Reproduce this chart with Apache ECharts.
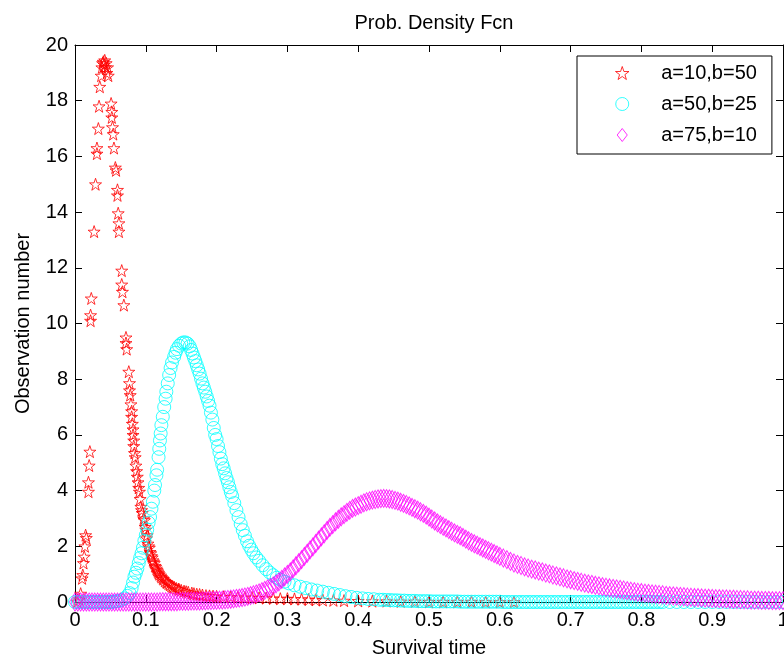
<!DOCTYPE html>
<html>
<head>
<meta charset="utf-8">
<script src="https://cdn.jsdelivr.net/npm/echarts@6/dist/echarts.min.js"></script>
<style>html,body{margin:0;padding:0;background:#fff;}#c{width:784px;height:659px;}</style>
</head>
<body>
<div id="c"></div>
<script>
// ---- data ----
const seriesNames = ['a=10,b=50', 'a=50,b=25', 'a=75,b=10'];
const xTickLabels = ['0','0.1','0.2','0.3','0.4','0.5','0.6','0.7','0.8','0.9','1'];
const yTickLabels = ['0','2','4','6','8','10','12','14','16','18','20'];

const redPoints = [[0.003,0.02],[0.006,0.1],[0.008,0.3],[0.010,0.85],[0.011,0.97],[0.012,1.4],[0.013,1.63],[0.014,2.0],[0.015,2.4],[0.016,2.3],[0.019,3.96],[0.019,4.3],[0.020,4.9],[0.021,5.4],[0.022,10.1],[0.022,10.3],[0.023,10.9],[0.027,13.3],[0.029,15.0],[0.031,16.1],[0.031,16.3],[0.033,17.0],[0.034,17.8],[0.035,18.5],[0.037,18.9],[0.038,19.2],[0.039,19.35],[0.040,19.4],[0.041,19.3],[0.042,19.45],[0.043,19.2],[0.044,19.35],[0.045,19.0],[0.046,19.2],[0.047,18.9],[0.051,17.9],[0.052,17.6],[0.052,17.4],[0.053,17.05],[0.054,16.8],[0.055,16.3],[0.057,15.6],[0.058,15.5],[0.060,14.8],[0.060,14.6],[0.061,13.96],[0.062,13.6],[0.062,13.3],[0.066,11.9],[0.066,11.4],[0.067,11.14],[0.069,10.66],[0.072,9.5],[0.072,9.3],[0.073,9.08],[0.076,8.27],[0.077,7.86],[0.077,7.6],[0.078,7.43],[0.079,7.1],[0.080,6.85],[0.080,6.65],[0.081,6.4],[0.082,6.2],[0.082,6.0],[0.083,5.8],[0.083,5.6],[0.084,5.35],[0.085,5.2],[0.086,4.9],[0.087,4.7],[0.088,4.5],[0.089,4.3],[0.090,4.1],[0.091,3.96],[0.092,3.7],[0.093,3.42],[0.094,3.3],[0.095,3.2],[0.097,3.0],[0.098,2.94],[0.099,2.7],[0.100,2.6],[0.101,2.29],[0.102,2.4],[0.103,2.1],[0.104,2.0],[0.105,1.95],[0.106,1.8],[0.107,1.75],[0.108,1.65],[0.109,1.6],[0.110,1.5],[0.111,1.45],[0.112,1.4],[0.113,1.3],[0.114,1.27],[0.115,1.2],[0.116,1.15],[0.117,1.1],[0.118,1.05],[0.119,1.0],[0.121,0.95],[0.122,0.9],[0.124,0.85],[0.125,0.82],[0.127,0.76],[0.129,0.72],[0.130,0.7],[0.132,0.66],[0.134,0.62],[0.136,0.58],[0.138,0.55],[0.140,0.53],[0.143,0.49],[0.146,0.46],[0.147,0.45],[0.150,0.42],[0.154,0.39],[0.157,0.37],[0.160,0.35],[0.165,0.32],[0.168,0.30],[0.172,0.28],[0.176,0.27],[0.180,0.25],[0.185,0.23],[0.190,0.22],[0.195,0.21],[0.200,0.2],[0.210,0.19],[0.220,0.18],[0.230,0.17],[0.240,0.16],[0.250,0.16],[0.260,0.15],[0.270,0.14],[0.280,0.13],[0.290,0.12],[0.300,0.12],[0.310,0.11],[0.320,0.10],[0.330,0.09],[0.340,0.08],[0.350,0.07],[0.365,0.06],[0.380,0.05],[0.400,0.04],[0.420,0.03],[0.440,0.03],[0.460,0.02],[0.480,0.02],[0.500,0.01],[0.520,0.01],[0.540,0.01],[0.560,0.01],[0.580,0.0],[0.600,0.0],[0.620,0.0]];

const cyanPoints = [[0.000,0.00],[0.004,0.00],[0.008,0.00],[0.012,0.00],[0.016,0.00],[0.020,0.00],[0.024,0.00],[0.028,0.00],[0.032,0.00],[0.036,0.00],[0.040,0.00],[0.044,0.00],[0.048,0.00],[0.051,0.00],[0.054,0.01],[0.057,0.02],[0.060,0.03],[0.065,0.06],[0.070,0.13],[0.074,0.22],[0.077,0.32],[0.080,0.50],[0.082,0.70],[0.084,0.91],[0.086,1.05],[0.088,1.20],[0.090,1.40],[0.092,1.58],[0.094,1.75],[0.096,1.95],[0.098,2.20],[0.100,2.40],[0.102,2.60],[0.104,2.85],[0.106,3.05],[0.108,3.35],[0.110,3.60],[0.112,4.00],[0.113,4.20],[0.115,4.55],[0.116,4.75],[0.118,5.20],[0.119,5.50],[0.120,5.80],[0.121,6.05],[0.122,6.35],[0.124,6.65],[0.126,7.00],[0.128,7.30],[0.129,7.55],[0.131,7.85],[0.133,8.15],[0.135,8.40],[0.137,8.60],[0.140,8.80],[0.142,8.95],[0.144,9.08],[0.147,9.20],[0.150,9.28],[0.153,9.32],[0.156,9.32],[0.159,9.28],[0.162,9.18],[0.164,9.05],[0.166,8.92],[0.168,8.78],[0.170,8.65],[0.172,8.50],[0.174,8.35],[0.176,8.20],[0.178,8.02],[0.180,7.85],[0.182,7.70],[0.184,7.55],[0.186,7.38],[0.188,7.22],[0.190,7.05],[0.192,6.80],[0.194,6.55],[0.196,6.25],[0.198,6.00],[0.200,5.85],[0.202,5.60],[0.204,5.38],[0.206,5.15],[0.208,4.95],[0.210,4.80],[0.212,4.62],[0.214,4.45],[0.216,4.30],[0.218,4.12],[0.220,3.95],[0.222,3.80],[0.225,3.55],[0.228,3.30],[0.231,3.05],[0.234,2.80],[0.237,2.58],[0.240,2.38],[0.243,2.18],[0.246,2.02],[0.249,1.88],[0.252,1.75],[0.256,1.60],[0.260,1.48],[0.265,1.32],[0.270,1.18],[0.275,1.06],[0.280,0.96],[0.285,0.87],[0.290,0.80],[0.296,0.73],[0.302,0.67],[0.310,0.60],[0.318,0.55],[0.326,0.50],[0.334,0.45],[0.342,0.41],[0.350,0.37],[0.358,0.33],[0.366,0.29],[0.374,0.25],[0.382,0.21],[0.390,0.18],[0.398,0.15],[0.406,0.13],[0.414,0.11],[0.422,0.10],[0.430,0.08],[0.435,0.08],[0.440,0.07],[0.445,0.07],[0.450,0.06],[0.455,0.06],[0.460,0.05],[0.465,0.05],[0.470,0.04],[0.475,0.04],[0.480,0.04],[0.485,0.03],[0.490,0.03],[0.495,0.03],[0.500,0.03],[0.505,0.02],[0.510,0.02],[0.515,0.02],[0.520,0.02],[0.525,0.02],[0.530,0.02],[0.535,0.02],[0.540,0.02],[0.545,0.01],[0.550,0.01],[0.555,0.01],[0.560,0.01],[0.565,0.01],[0.570,0.01],[0.575,0.01],[0.580,0.01],[0.585,0.01],[0.590,0.01],[0.595,0.01],[0.600,0.01],[0.605,0.00],[0.610,0.00],[0.615,0.00],[0.620,0.00],[0.625,0.00],[0.630,0.00],[0.635,0.00],[0.640,0.00],[0.645,0.00],[0.650,0.00],[0.655,0.00],[0.660,0.00],[0.665,0.00],[0.670,0.00],[0.675,0.00],[0.680,0.00],[0.685,0.00],[0.690,0.00],[0.695,0.00],[0.700,0.00],[0.705,0.00],[0.710,0.00],[0.715,0.00],[0.720,0.00],[0.725,0.00],[0.730,0.00],[0.735,0.00],[0.740,0.00],[0.745,0.00],[0.750,0.00],[0.755,0.00],[0.760,0.00],[0.765,0.00],[0.770,0.00],[0.775,0.00],[0.780,0.00],[0.785,0.00],[0.790,0.00],[0.795,0.00],[0.800,0.00],[0.805,0.00],[0.810,0.00],[0.815,0.00],[0.820,0.00],[0.825,0.00],[0.830,0.00],[0.840,0.00],[0.850,0.00],[0.860,0.00],[0.870,0.00],[0.880,0.00],[0.890,0.00],[0.900,0.00],[0.910,0.00],[0.920,0.00],[0.930,0.00],[0.940,0.00],[0.950,0.00],[0.960,0.00],[0.970,0.00],[0.980,0.00],[0.990,0.00],[1.000,0.00]];

const magentaPoints = [[0.000,0.00],[0.004,0.00],[0.008,0.00],[0.012,0.00],[0.016,0.00],[0.020,0.00],[0.024,0.00],[0.028,0.00],[0.032,0.00],[0.036,0.00],[0.040,0.00],[0.044,0.00],[0.048,0.00],[0.052,0.00],[0.056,0.00],[0.060,0.00],[0.064,0.00],[0.068,0.00],[0.072,0.00],[0.076,0.00],[0.080,0.00],[0.084,0.00],[0.088,0.00],[0.092,0.00],[0.096,0.00],[0.100,0.00],[0.104,0.00],[0.108,0.00],[0.112,0.00],[0.116,0.00],[0.120,0.01],[0.124,0.01],[0.128,0.01],[0.132,0.01],[0.136,0.01],[0.140,0.01],[0.144,0.01],[0.148,0.02],[0.152,0.02],[0.156,0.02],[0.160,0.02],[0.164,0.03],[0.168,0.03],[0.172,0.03],[0.176,0.03],[0.180,0.04],[0.184,0.04],[0.188,0.05],[0.192,0.05],[0.196,0.06],[0.200,0.06],[0.204,0.07],[0.208,0.07],[0.212,0.08],[0.216,0.09],[0.220,0.10],[0.224,0.11],[0.228,0.13],[0.232,0.14],[0.236,0.16],[0.240,0.18],[0.244,0.20],[0.248,0.23],[0.252,0.26],[0.256,0.29],[0.260,0.33],[0.264,0.37],[0.268,0.42],[0.272,0.47],[0.276,0.52],[0.280,0.58],[0.284,0.65],[0.288,0.72],[0.292,0.81],[0.296,0.90],[0.300,0.99],[0.304,1.08],[0.308,1.19],[0.312,1.30],[0.316,1.41],[0.320,1.52],[0.324,1.64],[0.328,1.75],[0.332,1.87],[0.336,1.98],[0.340,2.10],[0.344,2.22],[0.348,2.34],[0.352,2.45],[0.356,2.57],[0.360,2.68],[0.364,2.78],[0.368,2.88],[0.372,2.97],[0.376,3.06],[0.380,3.14],[0.384,3.22],[0.388,3.29],[0.392,3.36],[0.396,3.41],[0.400,3.46],[0.404,3.51],[0.408,3.56],[0.412,3.60],[0.416,3.63],[0.420,3.66],[0.424,3.68],[0.428,3.70],[0.432,3.71],[0.436,3.72],[0.440,3.71],[0.444,3.70],[0.448,3.68],[0.452,3.65],[0.456,3.62],[0.460,3.58],[0.464,3.54],[0.468,3.50],[0.472,3.45],[0.476,3.40],[0.480,3.35],[0.484,3.30],[0.488,3.24],[0.492,3.18],[0.496,3.12],[0.500,3.05],[0.504,2.98],[0.508,2.91],[0.512,2.84],[0.516,2.78],[0.520,2.72],[0.524,2.66],[0.528,2.60],[0.532,2.54],[0.536,2.48],[0.540,2.43],[0.544,2.38],[0.548,2.32],[0.552,2.26],[0.556,2.20],[0.560,2.14],[0.564,2.09],[0.568,2.04],[0.572,1.99],[0.576,1.94],[0.580,1.89],[0.584,1.84],[0.588,1.79],[0.592,1.74],[0.596,1.69],[0.600,1.64],[0.605,1.58],[0.610,1.52],[0.615,1.46],[0.620,1.40],[0.625,1.35],[0.630,1.31],[0.635,1.26],[0.640,1.22],[0.645,1.18],[0.650,1.15],[0.655,1.11],[0.660,1.08],[0.665,1.04],[0.670,1.01],[0.675,0.97],[0.680,0.94],[0.685,0.90],[0.690,0.87],[0.695,0.83],[0.700,0.80],[0.705,0.77],[0.710,0.74],[0.715,0.71],[0.720,0.68],[0.725,0.65],[0.730,0.63],[0.735,0.60],[0.740,0.58],[0.745,0.55],[0.750,0.53],[0.755,0.51],[0.760,0.49],[0.765,0.47],[0.770,0.45],[0.775,0.43],[0.780,0.41],[0.785,0.39],[0.790,0.37],[0.795,0.35],[0.800,0.34],[0.805,0.32],[0.810,0.31],[0.815,0.29],[0.820,0.28],[0.825,0.27],[0.830,0.26],[0.835,0.24],[0.840,0.23],[0.845,0.22],[0.850,0.21],[0.855,0.20],[0.860,0.19],[0.865,0.18],[0.870,0.17],[0.875,0.16],[0.880,0.16],[0.885,0.15],[0.890,0.14],[0.895,0.14],[0.900,0.13],[0.905,0.12],[0.910,0.12],[0.915,0.11],[0.920,0.11],[0.925,0.10],[0.930,0.10],[0.935,0.09],[0.940,0.09],[0.945,0.08],[0.950,0.08],[0.955,0.07],[0.960,0.07],[0.965,0.07],[0.970,0.06],[0.975,0.06],[0.980,0.06],[0.985,0.05],[0.990,0.05],[0.995,0.05],[1.000,0.05]];

// ---- chart ----
const FONT = 'Liberation Sans, Arial, Helvetica, sans-serif';
const STAR = 'path://M50,0 L61.8,35.4 L97.6,35.4 L68.8,57.3 L79.4,91.8 L50,70.5 L20.6,91.8 L31.2,57.3 L2.4,35.4 L38.2,35.4 Z';
const DIAMOND = 'path://M7,0 L14,9 L7,18 L0,9 Z';
const chart = echarts.init(document.getElementById('c'), null, {renderer: 'canvas'});

function axisCommon(extra) {
  return Object.assign({
    type: 'value',
    axisLine: {show: true, onZero: false, lineStyle: {color: '#000', width: 1}},
    axisTick: {show: true, inside: true, length: 7, lineStyle: {color: '#000', width: 1}},
    splitLine: {show: false},
  }, extra);
}

const option = {
  animation: false,
  backgroundColor: '#fff',
  title: {
    text: 'Prob. Density Fcn',
    left: 429, top: 8, textAlign: 'center',
    textStyle: {fontFamily: FONT, fontSize: 20, fontWeight: 'normal', color: '#000'}
  },
  grid: {left: 75, right: 1, top: 45, bottom: 57, containLabel: false, outerBoundsMode: 'none'},
  legend: {
    orient: 'vertical',
    left: 577, top: 56,
    padding: [7, 15, 9, 38],
    itemWidth: 68, itemHeight: 13, itemGap: 11,
    backgroundColor: '#fff',
    borderColor: '#000', borderWidth: 1,
    itemStyle: {borderWidth: 1},
    textStyle: {fontFamily: FONT, fontSize: 20, color: '#000', lineHeight: 20},
    data: seriesNames
  },
  xAxis: [
    axisCommon({
      min: 0, max: 1, interval: 0.1, position: 'bottom',
      axisLabel: {color: '#000', fontFamily: FONT, fontSize: 20, margin: 8,
        showMinLabel: true, showMaxLabel: true,
        formatter: (v, i) => xTickLabels[i]},
      name: 'Survival time', nameLocation: 'middle', nameGap: 36,
      nameTextStyle: {fontFamily: FONT, fontSize: 20, color: '#000'}
    }),
    axisCommon({min: 0, max: 1, interval: 0.1, position: 'top', axisLabel: {show: false}})
  ],
  yAxis: [
    axisCommon({
      min: 0, max: 20, interval: 2, position: 'left',
      axisLabel: {color: '#000', fontFamily: FONT, fontSize: 20, margin: 7,
        formatter: (v, i) => yTickLabels[i]},
      name: 'Observation number', nameLocation: 'middle', nameGap: 42,
      nameTextStyle: {fontFamily: FONT, fontSize: 20, color: '#000'}
    }),
    axisCommon({min: 0, max: 20, interval: 2, position: 'right', axisLabel: {show: false}})
  ],
  series: [
    {
      name: seriesNames[0], type: 'scatter', data: redPoints, clip: false,
      symbol: STAR, symbolSize: 12,
      itemStyle: {color: 'transparent', borderColor: '#ff0000', borderWidth: 1}
    },
    {
      name: seriesNames[1], type: 'scatter', data: cyanPoints, clip: false,
      symbol: 'circle', symbolSize: 13,
      itemStyle: {color: 'transparent', borderColor: '#00ffff', borderWidth: 1}
    },
    {
      name: seriesNames[2], type: 'scatter', data: magentaPoints, clip: false,
      symbol: DIAMOND, symbolSize: [14, 18], symbolKeepAspect: true,
      itemStyle: {color: 'transparent', borderColor: '#ff00ff', borderWidth: 1}
    }
  ]
};
chart.setOption(option);
</script>
</body>
</html>
